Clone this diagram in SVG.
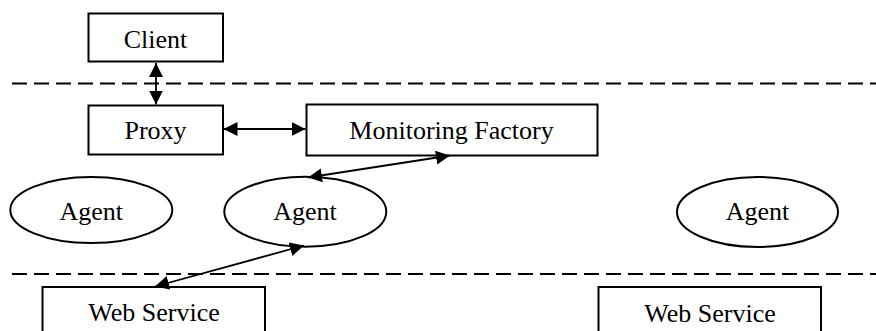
<svg xmlns="http://www.w3.org/2000/svg" width="876" height="331" viewBox="0 0 876 331">
<style>
.box{fill:#fff;stroke:#000;stroke-width:2}
.ell{fill:#fff;stroke:#000;stroke-width:2}
.lbl{font-family:"Liberation Serif","Times New Roman",serif;font-size:26px;fill:#000;text-anchor:middle}
.sep{stroke:#000;stroke-width:2;stroke-dasharray:15 7;fill:none}
.arr{stroke:#000;stroke-width:1.8;fill:none;marker-start:url(#ah);marker-end:url(#ah)}
</style>
<defs>
<marker id="ah" markerUnits="userSpaceOnUse" markerWidth="15" markerHeight="14" refX="14" refY="7" orient="auto-start-reverse">
<path d="M0,0 L14,7 L0,14 z" fill="#000"/>
</marker>
</defs>
<g id="separators">
<line class="sep" x1="12" y1="83.5" x2="876" y2="83.5"/>
<line class="sep" x1="12" y1="274" x2="876" y2="274"/>
</g>
<g id="client"><rect class="box" x="88.5" y="13.5" width="134.5" height="48"/><text class="lbl" x="155.5" y="48">Client</text></g>
<g id="proxy"><rect class="box" x="88.5" y="105.5" width="134.5" height="49"/><text class="lbl" x="155.5" y="138.5">Proxy</text></g>
<g id="monitoring"><rect class="box" x="306.5" y="104.5" width="291" height="51"/><text class="lbl" x="451.5" y="138.5">Monitoring Factory</text></g>
<g id="agent1"><ellipse class="ell" cx="91.3" cy="210" rx="81" ry="33"/><text class="lbl" x="91.3" y="219.5">Agent</text></g>
<g id="agent2"><ellipse class="ell" cx="305.3" cy="211.7" rx="81" ry="35"/><text class="lbl" x="305" y="219.5">Agent</text></g>
<g id="agent3"><ellipse class="ell" cx="757.5" cy="212" rx="80.5" ry="35"/><text class="lbl" x="757.5" y="219.5">Agent</text></g>
<g id="webservice1"><rect class="box" x="42.5" y="287" width="222.5" height="60"/><text class="lbl" x="154" y="321">Web Service</text></g>
<g id="webservice2"><rect class="box" x="598.5" y="287" width="222.5" height="60"/><text class="lbl" x="710" y="321.5">Web Service</text></g>
<g id="connectors">
<line class="arr" x1="156" y1="63" x2="156" y2="104.5"/>
<line class="arr" x1="223.5" y1="129" x2="305.5" y2="129"/>
<line class="arr" x1="308" y1="177.5" x2="450" y2="155.5"/>
<line class="arr" x1="304" y1="245.5" x2="155" y2="286.5"/>
</g>
</svg>
